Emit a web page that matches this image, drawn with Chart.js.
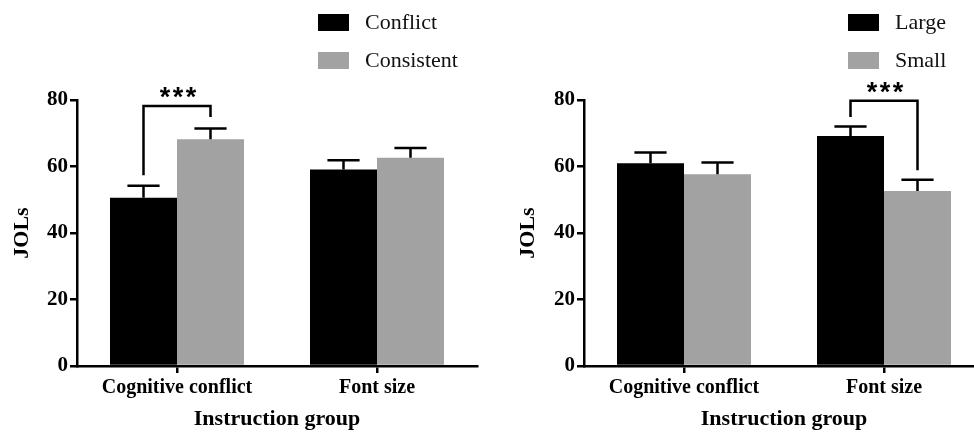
<!DOCTYPE html>
<html>
<head>
<meta charset="utf-8">
<script src="https://cdn.jsdelivr.net/npm/chart.js@4"></script>
<style>
body { margin: 0; background: #fff; overflow: hidden; width: 974px; height: 433px; position: relative }
canvas { position: absolute; top: 0 }
#left-chart { left: 0 }
#right-chart { left: 487px }
</style>
</head>
<body>
<canvas id="left-chart" width="487" height="433"></canvas>
<canvas id="right-chart" width="500" height="433"></canvas>
<script>
const categories = ['Cognitive conflict', 'Font size']
const yMin = 0
const yMax = 80
const yStep = 20

// left panel: instruction type
const conflictValues = [50.6, 59.1]
const conflictErrors = [3.6, 2.8]
const consistentValues = [68.2, 62.6]
const consistentErrors = [3.2, 3.0]

// right panel: font size
const largeValues = [61.0, 69.2]
const largeErrors = [3.2, 2.8]
const smallValues = [57.7, 52.6]
const smallErrors = [3.5, 3.4]

// significance brackets: category, bracket level, end of left leg, end of right leg
const leftBrackets = [{ category: 0, top: 78.2, from: 57.4, to: 74.9, label: '***' }]
const rightBrackets = [{ category: 1, top: 79.8, from: 74.9, to: 58.9, label: '***' }]

const black = '#000000'
const gray = '#a2a2a2'

Chart.defaults.font.family = '"Liberation Serif", "Times New Roman", serif'
Chart.defaults.color = '#000'

const errorBars = {
    id: 'errorBars',
    afterDatasetsDraw(chart) {
        const ctx = chart.ctx
        const y = chart.scales.y
        ctx.save()
        ctx.strokeStyle = '#000'
        ctx.lineWidth = 2.5
        chart.data.datasets.forEach((ds, i) => {
            chart.getDatasetMeta(i).data.forEach((bar, j) => {
                const top = y.getPixelForValue(ds.data[j] + ds.errors[j])
                const half = bar.width * 0.24
                ctx.beginPath()
                ctx.moveTo(bar.x, bar.y)
                ctx.lineTo(bar.x, top)
                ctx.moveTo(bar.x - half, top)
                ctx.lineTo(bar.x + half, top)
                ctx.stroke()
            })
        })
        ctx.restore()
    }
}

const brackets = {
    id: 'brackets',
    afterDraw(chart, args, opts) {
        const ctx = chart.ctx
        const y = chart.scales.y
        ctx.save()
        ctx.strokeStyle = '#000'
        ctx.lineWidth = 2.5
        opts.list.forEach(b => {
            const x1 = chart.getDatasetMeta(0).data[b.category].x
            const x2 = chart.getDatasetMeta(1).data[b.category].x
            const top = y.getPixelForValue(b.top)
            ctx.beginPath()
            ctx.moveTo(x1, y.getPixelForValue(b.from))
            ctx.lineTo(x1, top)
            ctx.lineTo(x2, top)
            ctx.lineTo(x2, y.getPixelForValue(b.to))
            ctx.stroke()
            ctx.fillStyle = '#000'
            ctx.font = 'bold 27px "Liberation Sans", Arial, sans-serif'
            ctx.textAlign = 'center'
            ctx.textBaseline = 'middle'
            const mid = (x1 + x2) / 2 + 1
            const stars = b.label.split('')
            stars.forEach((s, k) => {
                ctx.fillText(s, mid + (k - (stars.length - 1) / 2) * 13, top - 7)
            })
        })
        ctx.restore()
    }
}

const boxLegend = {
    id: 'boxLegend',
    afterDraw(chart, args, opts) {
        const ctx = chart.ctx
        ctx.save()
        ctx.font = '22px "Liberation Serif", "Times New Roman", serif'
        ctx.textAlign = 'left'
        ctx.textBaseline = 'middle'
        chart.data.datasets.forEach((ds, i) => {
            const top = opts.top + i * opts.gap
            ctx.fillStyle = ds.backgroundColor
            ctx.fillRect(opts.x, top, 31, 17)
            ctx.fillStyle = '#111'
            ctx.fillText(ds.label, opts.x + 47, top + 9)
        })
        ctx.restore()
    }
}

function panel(id, labels, series, bracketList, cfg) {
    return new Chart(document.getElementById(id), {
        type: 'bar',
        data: {
            labels: categories,
            datasets: series.map((s, i) => ({
                label: labels[i],
                data: s.values,
                errors: s.errors,
                backgroundColor: s.color,
                borderWidth: 0,
                barPercentage: 1,
                categoryPercentage: 0.67
            }))
        },
        options: {
            responsive: false,
            animation: false,
            layout: { padding: { top: 100, right: cfg.right, left: 0, bottom: 0 } },
            plugins: {
                legend: { display: false },
                tooltip: { enabled: false },
                brackets: { list: bracketList },
                boxLegend: { x: cfg.legendX, top: 14, gap: 38 }
            },
            scales: {
                x: {
                    afterFit(scale) { scale.height = 67 },
                    grid: { offset: false, drawOnChartArea: false, drawTicks: true, tickLength: 7, color: '#000', lineWidth: 2.5 },
                    border: { color: '#000', width: 2.5 },
                    ticks: { font: { size: 20, weight: 'bold' }, padding: 3, color: '#000' },
                    title: { display: true, text: 'Instruction group', font: { size: 22, weight: 'bold' }, padding: { top: 0, bottom: 0 }, color: '#000' }
                },
                y: {
                    min: yMin,
                    max: yMax,
                    afterFit(scale) { scale.width = cfg.axisWidth },
                    grid: { drawOnChartArea: false, drawTicks: true, tickLength: 7, color: '#000', lineWidth: 2.5 },
                    border: { color: '#000', width: 2.5 },
                    ticks: { stepSize: yStep, font: { size: 21, weight: 'bold' }, padding: 2, color: '#000' },
                    title: { display: true, text: 'JOLs', font: { size: 22, weight: 'bold' }, padding: { top: cfg.titlePad, bottom: 0 }, color: '#000' }
                }
            }
        },
        plugins: [errorBars, brackets, boxLegend]
    })
}

panel('left-chart', ['Conflict', 'Consistent'], [
    { values: conflictValues, errors: conflictErrors, color: black },
    { values: consistentValues, errors: consistentErrors, color: gray }
], leftBrackets, { right: 10, axisWidth: 77, titlePad: 9, legendX: 318 })

panel('right-chart', ['Large', 'Small'], [
    { values: largeValues, errors: largeErrors, color: black },
    { values: smallValues, errors: smallErrors, color: gray }
], rightBrackets, { right: 3, axisWidth: 97, titlePad: 28, legendX: 361 })
</script>
</body>
</html>
